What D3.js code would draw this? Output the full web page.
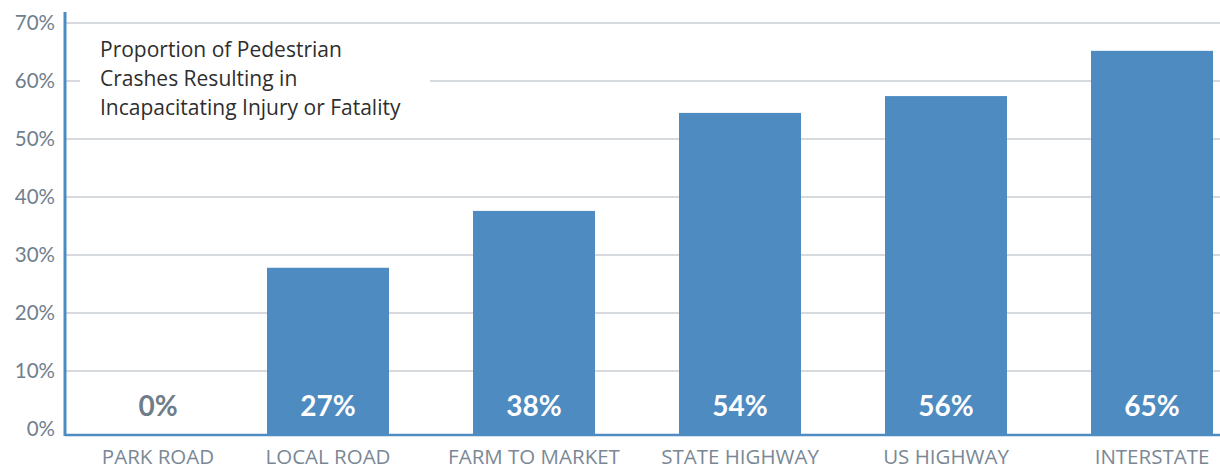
<!DOCTYPE html>
<html>
<head>
<meta charset="utf-8">
<script src="https://cdn.jsdelivr.net/npm/d3@7"></script>
<style>
  body { margin: 0; background: #fff; }
  svg { display: block; font-family: Lato, "Open Sans", sans-serif; }
</style>
</head>
<body>
<svg id="chart" width="1220" height="466"></svg>
<script>
// data
const categories = ["PARK ROAD", "LOCAL ROAD", "FARM TO MARKET", "STATE HIGHWAY", "US HIGHWAY", "INTERSTATE"];
const values = [0, 27.8, 37.6, 54.5, 57.4, 65.2];
const valueLabels = ["0%", "27%", "38%", "54%", "56%", "65%"];
const yTicks = [0, 10, 20, 30, 40, 50, 60, 70];
const titleLines = ["Proportion of Pedestrian", "Crashes Resulting in", "Incapacitating Injury or Fatality"];

const svg = d3.select("svg#chart");
const bounds = { minX: 65, maxX: 1220, minY: 23, maxY: 429, axisY: 435 };
const blue = "#4e8bc1";

const scaleY = d3.scaleLinear().domain([0, 70]).range([bounds.maxY, bounds.minY]);
const scaleX = d3.scaleBand().domain(categories)
    .range([61, 1213])
    .paddingInner(84 / 206).paddingOuter(0);

// gridlines
svg.append("g")
    .selectAll("line")
    .data(yTicks.filter(d => d > 0))
    .join("line")
    .attr("x1", bounds.minX).attr("x2", bounds.maxX)
    .attr("y1", d => scaleY(d)).attr("y2", d => scaleY(d))
    .attr("stroke", "#c9cdd3").attr("stroke-width", 1.5);

// y tick labels
svg.append("g")
    .selectAll("text")
    .data(yTicks)
    .join("text")
    .attr("x", 55)
    .attr("y", d => scaleY(d) + 7)
    .attr("text-anchor", "end")
    .attr("fill", "#6f7f8e")
    .attr("font-size", 20.5)
    .text(d => d + "%");

// title box knocks out the grid behind it
svg.append("rect")
    .attr("x", 80).attr("y", 32).attr("width", 350).attr("height", 94)
    .attr("fill", "#fff");
svg.append("g")
    .selectAll("text")
    .data(titleLines)
    .join("text")
    .attr("x", 100)
    .attr("y", (d, i) => 57 + i * 29)
    .attr("fill", "#2e2e2e")
    .attr("font-family", "'Open Sans', sans-serif")
    .attr("font-size", 21)
    .text(d => d);

// bars
const cx = (d, i) => scaleX(d) + scaleX.bandwidth() / 2 + (i === 0 ? 36 : 0);
svg.append("g")
    .selectAll("rect")
    .data(categories)
    .join("rect")
    .attr("x", d => scaleX(d))
    .attr("width", scaleX.bandwidth())
    .attr("y", (d, i) => scaleY(values[i]))
    .attr("height", (d, i) => values[i] > 0 ? bounds.axisY - scaleY(values[i]) : 0)
    .attr("fill", blue);

// value labels
svg.append("g")
    .selectAll("text")
    .data(categories)
    .join("text")
    .attr("x", cx)
    .attr("y", 416)
    .attr("text-anchor", "middle")
    .attr("font-weight", "bold")
    .attr("font-size", 28)
    .attr("fill", (d, i) => values[i] > 0 ? "#fff" : "#6f7d8a")
    .text((d, i) => valueLabels[i]);

// axis lines
svg.append("line")
    .attr("x1", bounds.minX).attr("x2", bounds.maxX)
    .attr("y1", bounds.axisY).attr("y2", bounds.axisY)
    .attr("stroke", blue).attr("stroke-width", 2.5);
svg.append("line")
    .attr("x1", bounds.minX).attr("x2", bounds.minX)
    .attr("y1", 12).attr("y2", bounds.axisY + 1)
    .attr("stroke", blue).attr("stroke-width", 3);

// category labels
svg.append("g")
    .selectAll("text")
    .data(categories)
    .join("text")
    .attr("x", cx)
    .attr("y", 464)
    .attr("text-anchor", "middle")
    .attr("fill", "#7a8895")
    .attr("font-family", "'Open Sans', sans-serif")
    .attr("font-size", 20.5)
    .text(d => d);
</script>
</body>
</html>
